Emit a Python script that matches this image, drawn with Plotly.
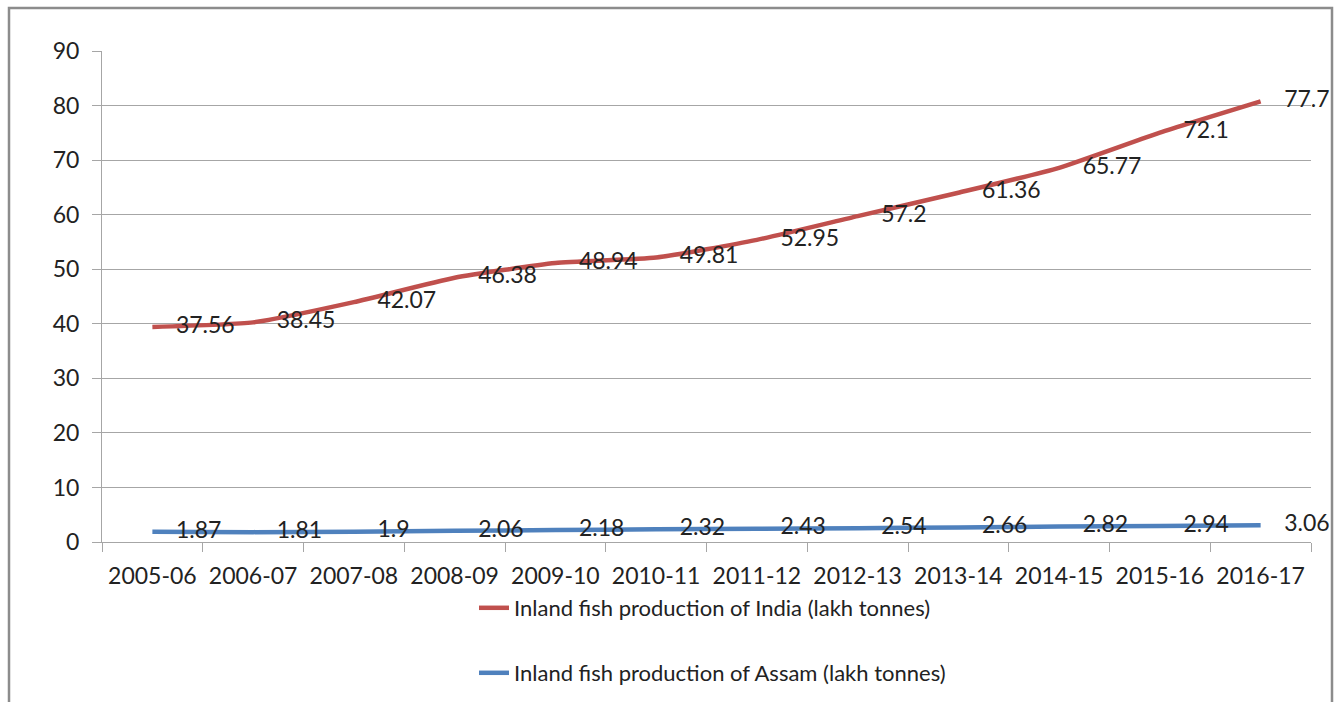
import plotly.graph_objects as go

years = ["2005-06", "2006-07", "2007-08", "2008-09", "2009-10", "2010-11",
         "2011-12", "2012-13", "2013-14", "2014-15", "2015-16", "2016-17"]
india = [37.56, 38.45, 42.07, 46.38, 48.94, 49.81, 52.95, 57.2, 61.36, 65.77, 72.1, 77.7]
assam = [1.87, 1.81, 1.9, 2.06, 2.18, 2.32, 2.43, 2.54, 2.66, 2.82, 2.94, 3.06]
y_ticks = list(range(0, 91, 10))

FONT = "Lato"
RED = "#C0504D"
BLUE = "#4F81BD"
GRID = "#A6A6A6"
PAD = "\u00a0" * 4

fig = go.Figure()
fig.add_trace(go.Scatter(
    x=years, y=assam, name="Inland fish production of Assam (lakh tonnes)",
    stackgroup="s", fill="none", mode="lines+text", cliponaxis=False,
    line=dict(color=BLUE, width=4.5, shape="spline", smoothing=0.5),
    text=[PAD + str(v) for v in assam], textposition="middle right",
    textfont=dict(family=FONT, size=23, color="#222222"),
    legend="legend2",
))
fig.add_trace(go.Scatter(
    x=years, y=india, name="Inland fish production of India (lakh tonnes)",
    stackgroup="s", fill="none", mode="lines+text", cliponaxis=False,
    line=dict(color=RED, width=4.5, shape="spline", smoothing=0.5),
    text=[PAD + str(v) for v in india], textposition="middle right",
    textfont=dict(family=FONT, size=23, color="#222222"),
    legend="legend",
))

L, R, T, B = 102, 32, 51, 160
W, H = 1343, 702
pw, ph = W - L - R, H - T - B

def px2x(px):
    return (px - L) / pw

def py2y(py):
    return (H - B - py) / ph

fig.update_layout(
    width=W, height=H,
    margin=dict(l=L, r=R, t=T, b=B, autoexpand=False),
    paper_bgcolor="white", plot_bgcolor="white",
    font=dict(family=FONT, size=23, color="#222222"),
    showlegend=True,
    legend=dict(x=px2x(474), y=py2y(608), xanchor="left", yanchor="middle",
                font=dict(family=FONT, size=22, color="#222222"),
                bgcolor="rgba(0,0,0,0)", itemwidth=30),
    legend2=dict(x=px2x(474), y=py2y(673), xanchor="left", yanchor="middle",
                 font=dict(family=FONT, size=22, color="#222222"),
                 bgcolor="rgba(0,0,0,0)", itemwidth=30),
    xaxis=dict(type="category", showline=True, linecolor=GRID, linewidth=1,
               ticks="outside", tickson="boundaries", ticklen=9, tickcolor=GRID,
               showgrid=False, tickfont=dict(family=FONT, size=23, color="#222222"),
               range=[-0.5, len(years) - 0.5], fixedrange=True,
               ticklabelstandoff=13, automargin=False),
    yaxis=dict(range=[0, 90], tickvals=y_ticks, showline=True, linecolor=GRID,
               linewidth=1, ticks="outside", ticklen=9, tickcolor=GRID,
               showgrid=True, gridcolor=GRID, gridwidth=1, zeroline=False,
               tickfont=dict(family=FONT, size=23, color="#222222"),
               ticklabelstandoff=8, automargin=False),
    shapes=[dict(type="rect", xref="paper", yref="paper",
                 x0=px2x(9), x1=px2x(1332), y0=py2y(720), y1=py2y(8),
                 line=dict(color="#8C8C8C", width=2.5), fillcolor="rgba(0,0,0,0)",
                 layer="below")],
)

fig.write_html("out.html")
